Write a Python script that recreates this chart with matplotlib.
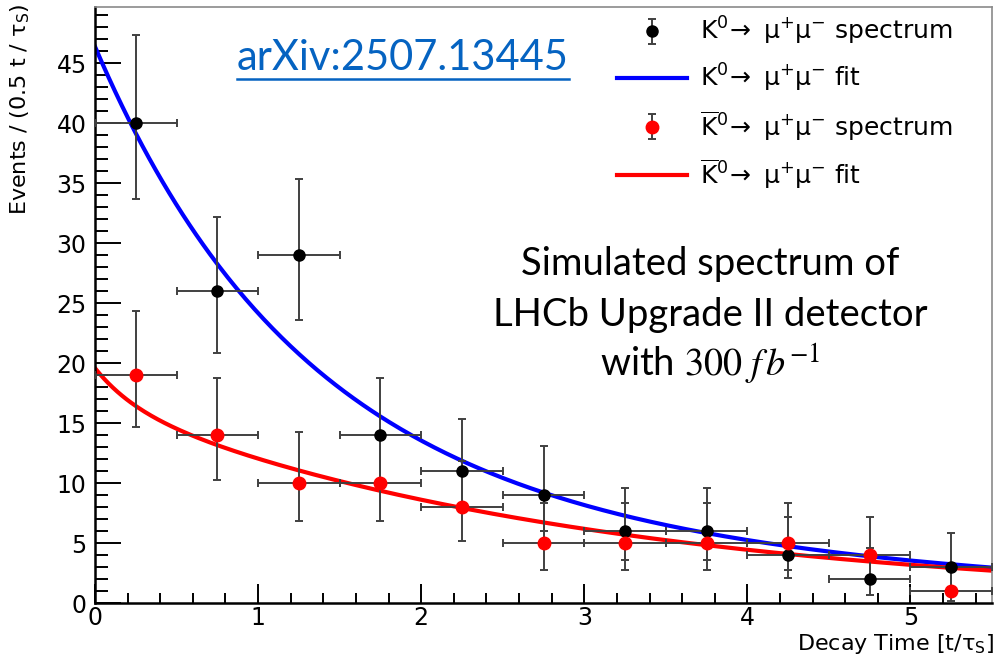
import numpy as np
import matplotlib
matplotlib.use('Agg')
import matplotlib.pyplot as plt
from matplotlib.ticker import MultipleLocator
from matplotlib.lines import Line2D

plt.rcParams['font.family'] = ['DejaVu Sans']
plt.rcParams['mathtext.fontset'] = 'dejavusans'

# bins of 0.5 t/tau_S
t_centres = [0.25, 0.75, 1.25, 1.75, 2.25, 2.75, 3.25, 3.75, 4.25, 4.75, 5.25]
t_half = [0.25] * 11

# K0 -> mu mu spectrum (counts, poisson errors low / high)
k0_counts = [40, 26, 29, 14, 11, 9, 6, 6, 4, 2, 3]
k0_err_lo = [6.3, 5.1, 5.4, 3.7, 3.3, 3.0, 2.4, 2.4, 1.9, 1.3, 1.6]
k0_err_hi = [7.4, 6.2, 6.4, 4.8, 4.4, 4.1, 3.6, 3.6, 3.2, 2.6, 2.9]

# K0bar -> mu mu spectrum
kb_counts = [19, 14, 10, 10, 8, 5, 5, 5, 5, 4, 1]
kb_err_lo = [4.3, 3.7, 3.1, 3.1, 2.8, 2.2, 2.2, 2.2, 2.2, 1.9, 0.8]
kb_err_hi = [5.4, 4.8, 4.3, 4.3, 3.9, 3.4, 3.4, 3.4, 3.4, 3.2, 2.3]

# fitted curves: sum of two exponentials (amplitudes, rates)
k0_fit_amp = [32.5, 13.9]
k0_fit_rate = [0.85, 0.30]
kb_fit_amp = [2.9, 16.7]
kb_fit_rate = [4.0, 0.33]

W, H = 996, 658
fig = plt.figure(figsize=(W / 100, H / 100), dpi=100)
ax = fig.add_axes([95 / W, 1 - 603.3 / H, (992 - 95) / W, (603.3 - 7) / H])

t = np.linspace(0, 5.5, 400)
k0_fit = sum(a * np.exp(-r * t) for a, r in zip(k0_fit_amp, k0_fit_rate))
kb_fit = sum(a * np.exp(-r * t) for a, r in zip(kb_fit_amp, kb_fit_rate))
l_k0, = ax.plot(t, k0_fit, color='#0000ff', lw=3, zorder=2)
l_kb, = ax.plot(t, kb_fit, color='#ff0000', lw=3, zorder=2)

bar_col = '#404040'
# horizontal bin-width bars (no legend)
for cnt in (k0_counts, kb_counts):
    ax.errorbar(t_centres, cnt, xerr=t_half, fmt='none', ecolor=bar_col,
                elinewidth=1.4, capsize=3, capthick=1.4, zorder=3)
e_k0 = ax.errorbar(t_centres, k0_counts, yerr=[k0_err_lo, k0_err_hi], fmt='o',
                   color='black', ms=8, ecolor=bar_col, elinewidth=1.4,
                   capsize=3, capthick=1.4, zorder=4)
e_kb = ax.errorbar(t_centres, kb_counts, yerr=[kb_err_lo, kb_err_hi], fmt='o',
                   color='#ff0000', ms=9, ecolor=bar_col, elinewidth=1.4,
                   capsize=3, capthick=1.4, zorder=4)

ax.set_xlim(0, 5.5)
ax.set_ylim(0, 49.7)
ax.xaxis.set_major_locator(MultipleLocator(1))
ax.xaxis.set_minor_locator(MultipleLocator(0.2))
ax.yaxis.set_major_locator(MultipleLocator(5))
ax.yaxis.set_minor_locator(MultipleLocator(1))
ax.tick_params(axis='both', which='both', direction='in', width=1.4,
               labelsize=17, colors='black')
ax.tick_params(axis='x', which='major', length=14, pad=2)
ax.tick_params(axis='x', which='minor', length=7)
ax.tick_params(axis='y', which='major', length=19, pad=6)
ax.tick_params(axis='y', which='minor', length=9.5)
for s in ('left', 'bottom'):
    ax.spines[s].set_linewidth(1.8)
for s in ('top', 'right'):
    ax.spines[s].set_linewidth(1.2)
    ax.spines[s].set_color('#8a8a8a')

fig.text(20 / W, 1 - 4 / H, r'Events / (0.5 t / $\mathrm{\tau_{S}}$)',
         rotation=90, ha='center', va='top', fontsize=16)
fig.text(994 / W, 1 - 644 / H, r'Decay Time [t/$\mathrm{\tau_{S}}$]',
         ha='right', va='center', fontsize=16)

labels = [r'$\mathrm{K^{0}\!\rightarrow\ \mu^{+}\mu^{-}}$ spectrum',
          r'$\mathrm{K^{0}\!\rightarrow\ \mu^{+}\mu^{-}}$ fit',
          r'$\mathrm{\overline{K}^{0}\!\rightarrow\ \mu^{+}\mu^{-}}$ spectrum',
          r'$\mathrm{\overline{K}^{0}\!\rightarrow\ \mu^{+}\mu^{-}}$ fit']
leg = ax.legend([e_k0, l_k0, e_kb, l_kb], labels, loc='upper left',
                bbox_to_anchor=(617 / W, 1 - 15 / H), bbox_transform=fig.transFigure,
                frameon=False, fontsize=18, handlelength=2.8, handletextpad=0.5,
                labelspacing=0.6, borderpad=0, borderaxespad=0)

# annotations
link = fig.text(403 / W, 1 - 70 / H, 'arXiv:2507.13445', color='#0563c1',
                family='Lato', fontsize=30, ha='center', va='baseline')
fig.canvas.draw()
bb = link.get_window_extent()
fig.add_artist(Line2D([bb.x0 / W, bb.x1 / W], [1 - 79 / H, 1 - 79 / H],
                      color='#0563c1', lw=1.8, transform=fig.transFigure))

block = ['Simulated spectrum of', 'LHCb Upgrade II detector',
         r'with $300\ f\,b^{-1}$']
for i, line in enumerate(block):
    fig.text(710 / W, 1 - (275 + 51 * i) / H, line, family='Lato', fontsize=27.5,
             ha='center', va='baseline', math_fontfamily='stix')

fig.savefig('out.png', dpi=100)
